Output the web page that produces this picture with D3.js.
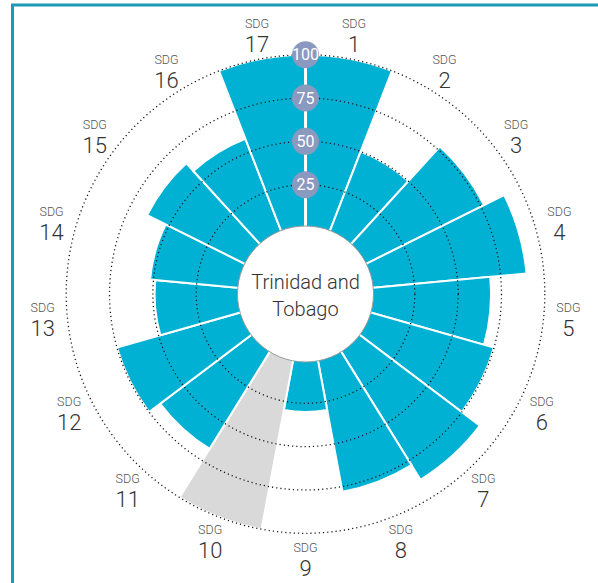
<!DOCTYPE html>
<html>
<head>
<meta charset="utf-8">
<script src="https://cdn.jsdelivr.net/npm/d3@7"></script>
<style>
  html, body { margin: 0; padding: 0; background: #fff; }
  svg { display: block; }
</style>
</head>
<body>
<svg id="chart" width="598" height="583"></svg>
<script>
// SDG goal numbers, clockwise from the top
const goals = ["1","2","3","4","5","6","7","8","9","10","11","12","13","14","15","16","17"];
// goal scores (0-100)
const scores = [100, 50, 77, 90, 69, 75, 88, 78, 30, 100, 67, 75, 49, 52, 64, 58, 100];
// goals without data are drawn in grey at full length
const missing = [false,false,false,false,false,false,false,false,false,true,false,false,false,false,false,false,false];
// gridline ticks
const ticks = [25, 50, 75, 100];
const countryName = ["Trinidad and", "Tobago"];

const W = 598, H = 583;
const cx = 305.5, cy = 294;
const innerR = 68;

const svg = d3.select("#chart");

// frame lines along the top and left edge
svg.append("path")
  .attr("d", `M12.5,${H} L12.5,5 L${W},5`)
  .attr("fill", "none")
  .attr("stroke", "#1b9ab6")
  .attr("stroke-width", 3);

const g = svg.append("g").attr("transform", `translate(${cx},${cy})`);

const r = d3.scaleLinear().domain([0, 100]).range([66, 239.3]);
const step = 2 * Math.PI / goals.length;

const arc = d3.arc()
  .innerRadius(r(0))
  .outerRadius((d, i) => r(d))
  .startAngle((d, i) => i * step)
  .endAngle((d, i) => (i + 1) * step);

// bars
g.selectAll("path.bar")
  .data(scores)
  .join("path")
  .attr("class", "bar")
  .attr("d", (d, i) => arc(d, i))
  .attr("fill", (d, i) => missing[i] ? "#d9d9d9" : "#00b1d3")
  .attr("stroke", "#fff")
  .attr("stroke-width", 2)
  .attr("stroke-linejoin", "miter");

// dotted gridline circles
g.selectAll("circle.grid")
  .data(ticks)
  .join("circle")
  .attr("class", "grid")
  .attr("r", d => r(d))
  .attr("fill", "none")
  .attr("stroke", "#1a1a1a")
  .attr("stroke-width", 1.3)
  .attr("stroke-dasharray", "1.2,3");

// vertical axis line
g.append("line")
  .attr("x1", 0).attr("x2", 0)
  .attr("y1", -r(0)).attr("y2", -r(100))
  .attr("stroke", "#fff")
  .attr("stroke-width", 3);

// centre disc
g.append("circle")
  .attr("r", innerR)
  .attr("fill", "#fff")
  .attr("stroke", "#9a9a9a")
  .attr("stroke-width", 1);

g.append("text")
  .attr("text-anchor", "middle")
  .attr("font-family", "Roboto, 'Open Sans', sans-serif")
  .attr("font-weight", 300)
  .attr("font-size", 20)
  .attr("fill", "#333")
  .selectAll("tspan")
  .data(countryName)
  .join("tspan")
  .attr("x", 0)
  .attr("y", (d, i) => -5.5 + i * 27)
  .text(d => d);

// tick badges on the axis
const badge = g.selectAll("g.badge")
  .data(ticks)
  .join("g")
  .attr("class", "badge")
  .attr("transform", d => `translate(0,${-r(d)})`);
badge.append("circle")
  .attr("r", 13.5)
  .attr("fill", "#8a99bf");
badge.append("text")
  .attr("text-anchor", "middle")
  .attr("dy", "0.36em")
  .attr("font-family", "'Liberation Sans Narrow', Roboto, sans-serif")
  .attr("font-size", 16)
  .attr("fill", "#fff")
  .text(d => d);

// goal labels around the ring
const labelR = 264;
const lab = g.selectAll("g.goal")
  .data(goals)
  .join("g")
  .attr("class", "goal")
  .attr("transform", (d, i) => {
    const a = (i + 0.5) * step;
    return `translate(${labelR * Math.sin(a)},${-labelR * Math.cos(a)})`;
  });
lab.append("text")
  .attr("text-anchor", "middle")
  .attr("y", -6)
  .attr("font-family", "Roboto, 'Open Sans', sans-serif")
  .attr("font-weight", 300)
  .attr("font-size", 12.5)
  .attr("fill", "#555")
  .text("SDG");
lab.append("text")
  .attr("text-anchor", "middle")
  .attr("y", 18)
  .attr("font-family", "Roboto, 'Open Sans', sans-serif")
  .attr("font-weight", 300)
  .attr("font-size", 22)
  .attr("fill", "#333")
  .text(d => d);
</script>
</body>
</html>
